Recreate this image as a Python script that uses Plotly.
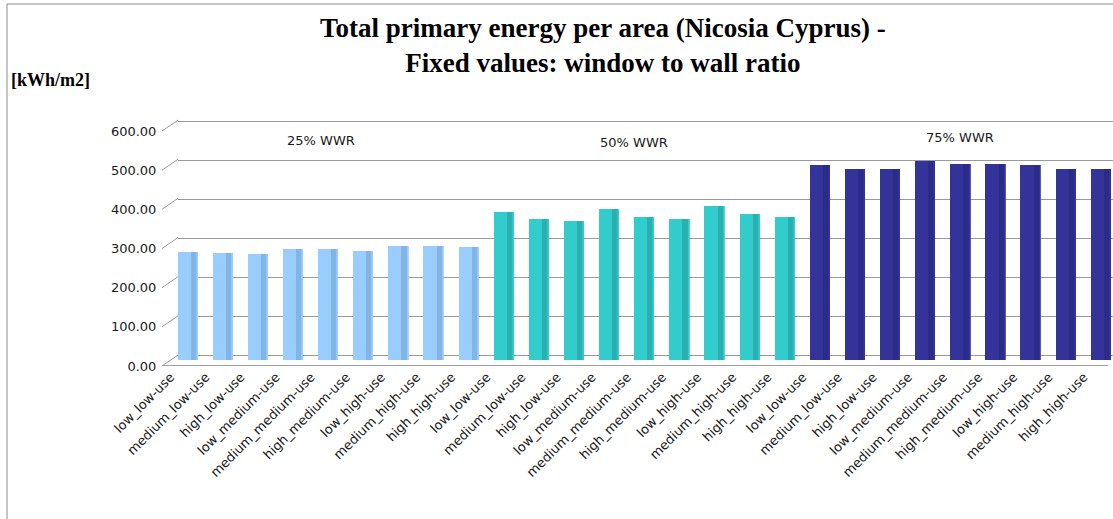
import plotly.graph_objects as go

# Building-use scenarios (same nine cases for each window-to-wall ratio)
scenarios = ["low_low-use", "medium_low-use", "high_low-use",
             "low_medium-use", "medium_medium-use", "high_medium-use",
             "low_high-use", "medium_high-use", "high_high-use"]
group_names = ["25% WWR", "50% WWR", "75% WWR"]

# Total primary energy per area [kWh/m2]
wwr25 = [277, 274, 271, 283, 284, 280, 292, 292, 290]
wwr50 = [378, 361, 355, 386, 365, 361, 395, 373, 366]
wwr75 = [500, 488, 489, 509, 501, 501, 500, 488, 488]

y_ticks = [0, 100, 200, 300, 400, 500, 600]

face_colors = ["#99CCFF", "#33CCCC", "#333399"]
shade_colors = ["#84B4E4", "#2AB0B0", "#2B2B88"]
group_values = [wwr25, wwr50, wwr75]

values = [v for g in group_values for v in g]
labels = scenarios * len(group_values)
idx = list(range(len(values)))
face = [face_colors[g] for g in range(3) for _ in scenarios]
shade = [shade_colors[g] for g in range(3) for _ in scenarios]

x_range = [-0.273, 26.35]           # bar axis (back wall starts at its left edge)
label_range = [-0.872, 26.83]       # category labels sit on the front floor edge

fig = go.Figure()

# cylinder body
fig.add_trace(go.Bar(x=idx, y=values, width=0.57, offset=-0.285,
                     marker=dict(color=face, line=dict(width=0)),
                     showlegend=False, hoverinfo="y"))
# darker right-hand side of each cylinder
fig.add_trace(go.Bar(x=idx, y=values, width=0.17, offset=0.09,
                     marker=dict(color=shade, line=dict(width=0)),
                     showlegend=False, hoverinfo="skip"))
# thin light rim on the far right edge
fig.add_trace(go.Bar(x=idx, y=values, width=0.035, offset=0.25,
                     marker=dict(color=face, opacity=0.8, line=dict(width=0)),
                     showlegend=False, hoverinfo="skip"))

# invisible carrier for the category label axis
fig.add_trace(go.Scatter(x=idx, y=values, xaxis="x2", yaxis="y",
                         mode="markers", marker=dict(opacity=0),
                         showlegend=False, hoverinfo="skip"))
# invisible carriers for the back-wall grid and value label axes
fig.add_trace(go.Scatter(x=[0], y=[0], xaxis="x", yaxis="y2", mode="markers",
                         marker=dict(opacity=0), showlegend=False, hoverinfo="skip"))
fig.add_trace(go.Scatter(x=[0], y=[0], xaxis="x", yaxis="y3", mode="markers",
                         marker=dict(opacity=0), showlegend=False, hoverinfo="skip"))

grid_col = "#9A9A9A"
tick_font = dict(family="DejaVu Sans", size=13, color="#1a1a1a")

# paper coordinates: plot area spans 140..1113 px horizontally, 110..366 px vertically
def px_x(p):
    return (p - 140) / 973

def px_y(p):
    return (366 - p) / 256

# diagonal connectors from the value labels to the back wall
for v in y_ticks:
    fig.add_shape(type="line", xref="paper", yref="y3",
                  x0=px_x(162), x1=px_x(178), y0=v, y1=v + 28,
                  line=dict(color=grid_col, width=1))

# front edge of the floor
fig.add_shape(type="line", xref="paper", yref="y3",
              x0=px_x(162), x1=px_x(1108), y0=0, y1=0,
              line=dict(color="#A0A0A0", width=2))

# group captions on the back wall
caption_x = [3.8, 12.7, 22.0]
caption_y = [562, 556, 570]
for g, name in enumerate(group_names):
    fig.add_annotation(x=caption_x[g], y=caption_y[g], xref="x", yref="y", text=name,
                       showarrow=False, font=tick_font)

# outer chart border
fig.add_shape(type="rect", xref="paper", yref="paper",
              x0=px_x(7), x1=px_x(1125), y0=px_y(540), y1=px_y(4),
              line=dict(color="#8C8C8C", width=1), fillcolor="rgba(0,0,0,0)")

# chart title
fig.add_annotation(text="<b>Total primary energy per area (Nicosia Cyprus) -<br>Fixed values: window to wall ratio</b>",
                   xref="paper", yref="paper", x=px_x(603), y=px_y(11),
                   xanchor="center", yanchor="top", showarrow=False,
                   font=dict(family="Liberation Serif", size=27, color="black"))

# unit label
fig.add_annotation(text="<b>[kWh/m2]</b>", xref="paper", yref="paper",
                   x=px_x(9), y=px_y(80), xanchor="left", yanchor="middle",
                   showarrow=False, font=dict(family="Liberation Serif", size=18, color="black"))

fig.update_layout(
    width=1113, height=519,
    margin=dict(l=140, r=0, t=110, b=153),
    paper_bgcolor="white", plot_bgcolor="rgba(0,0,0,0)",
    barmode="overlay", bargap=0,
    xaxis=dict(domain=[px_x(178), 1], range=x_range, showticklabels=False,
               showgrid=False, zeroline=False, showline=False, ticks=""),
    xaxis2=dict(domain=[0, 1], anchor="y3", side="bottom", range=label_range,
                tickmode="array", tickvals=idx, ticktext=labels, tickangle=-45,
                tickfont=tick_font, showgrid=False, zeroline=False, showline=False, ticks=""),
    yaxis=dict(anchor="x", range=[-15.3, 639.4], showticklabels=False,
               showgrid=False, zeroline=False),
    yaxis2=dict(anchor="x", overlaying="y", range=[-28.2, 628.2], tickvals=y_ticks,
                showticklabels=False, showgrid=True, gridcolor=grid_col, gridwidth=1,
                zeroline=False),
    yaxis3=dict(anchor="x", overlaying="y", range=[0, 653.6], tickvals=y_ticks,
                tickformat=".2f", tickfont=tick_font, showgrid=False, zeroline=False,
                ticks="outside", ticklen=18, tickcolor="rgba(0,0,0,0)"),
    font=dict(family="DejaVu Sans"),
)

fig.write_html("out.html")
